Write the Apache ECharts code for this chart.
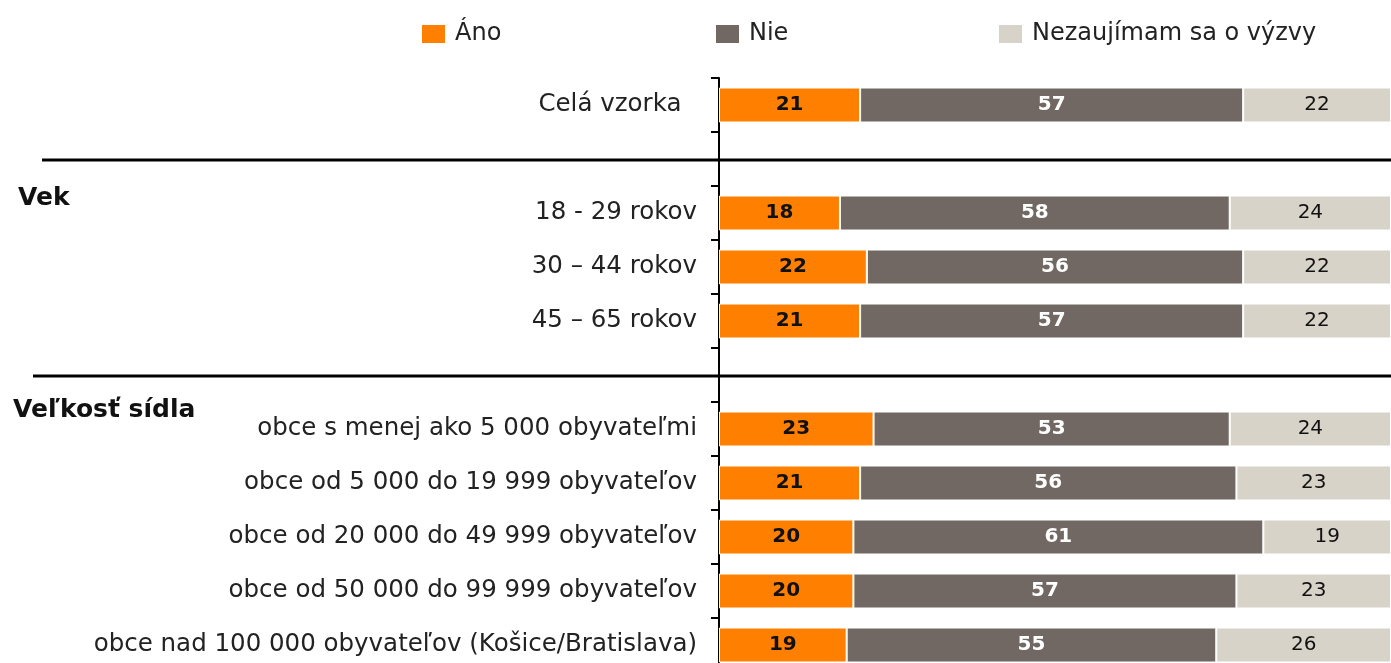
<!DOCTYPE html>
<html>
<head>
<meta charset="utf-8">
<script src="https://cdn.jsdelivr.net/npm/echarts@6/dist/echarts.min.js"></script>
<style>
  html, body { margin: 0; padding: 0; background: #fff; overflow: hidden; }
  /* taller than the window: the last row is cut off at the bottom, as in the source */
  #chart { width: 1391px; height: 672px; }
</style>
</head>
<body>
<div id="chart"></div>
<script>
// rows top to bottom, '' = empty spacer row under a separator
const categories = [
  'Celá vzorka  ',
  '',
  '18 - 29 rokov',
  '30 – 44 rokov',
  '45 – 65 rokov',
  '',
  'obce s menej ako 5 000 obyvateľmi',
  'obce od 5 000 do 19 999 obyvateľov',
  'obce od 20 000 do 49 999 obyvateľov',
  'obce od 50 000 do 99 999 obyvateľov',
  'obce nad 100 000 obyvateľov (Košice/Bratislava)'
];
const ano        = [21, null, 18, 22, 21, null, 23, 21, 20, 20, 19];
const nie        = [57, null, 58, 56, 57, null, 53, 56, 61, 57, 55];
const nezaujimam = [22, null, 24, 22, 22, null, 24, 23, 19, 23, 26];
const seriesNames = ['Áno', 'Nie', 'Nezaujímam sa o výzvy'];
const groups = [
  { title: 'Vek', row: 1 },
  { title: 'Veľkosť sídla', row: 5 }
];

const colors = ['#ff8000', '#716863', '#d8d3c8'];
const font = 'Tahoma, "DejaVu Sans", sans-serif';

const myChart = echarts.init(document.getElementById('chart'));

function legendAt(name, left) {
  return {
    data: [name],
    left: left,
    top: 17,
    icon: 'rect',
    itemWidth: 25,
    itemHeight: 20,
    itemGap: 0,
    textStyle: { color: '#222', fontSize: 24, fontFamily: font, padding: [0, 0, 0, 4] }
  };
}

function barLabel(color, weight) {
  return {
    show: true,
    position: 'inside',
    color: color,
    fontSize: 20,
    fontWeight: weight,
    fontFamily: font,
    formatter: p => (p.value == null ? '' : p.value)
  };
}

myChart.setOption({
  animation: false,
  color: colors,
  legend: [
    legendAt(seriesNames[0], 415),
    legendAt(seriesNames[1], 709),
    legendAt(seriesNames[2], 992)
  ],
  grid: { left: 719, right: 0, top: 78, bottom: 0 },
  xAxis: { type: 'value', min: 0, max: 100, show: false },
  yAxis: {
    type: 'category',
    inverse: true,
    data: categories,
    axisLine: { show: true, lineStyle: { color: '#000', width: 2 } },
    axisTick: { show: true, length: 8, lineStyle: { color: '#000', width: 2 } },
    axisLabel: { color: '#222', fontSize: 24.5, fontFamily: font, margin: 22 }
  },
  series: [
    { name: seriesNames[0], type: 'bar', stack: 'all', data: ano, barWidth: 35,
      itemStyle: { borderColor: '#fff', borderWidth: 1 }, label: barLabel('#111', 'bold') },
    { name: seriesNames[1], type: 'bar', stack: 'all', data: nie, barWidth: 35,
      itemStyle: { borderColor: '#fff', borderWidth: 1 }, label: barLabel('#fff', 'bold') },
    { name: seriesNames[2], type: 'bar', stack: 'all', data: nezaujimam, barWidth: 35,
      itemStyle: { borderColor: '#fff', borderWidth: 1 }, label: barLabel('#111', 'normal') }
  ]
});

// separator lines + group titles, placed from the category scale
const graphics = [];
groups.forEach((g, i) => {
  const y = Math.round(myChart.convertToPixel({ yAxisIndex: 0 }, g.row));
  graphics.push({
    type: 'line',
    shape: { x1: i === 0 ? 42 : 33, y1: y + 1, x2: 1391, y2: y + 1 },
    style: { stroke: '#000', lineWidth: 3 },
    z: 10
  });
  graphics.push({
    type: 'text',
    left: i === 0 ? 18 : 13,
    top: y + (i === 0 ? 27 : 23),
    style: { text: g.title, fill: '#111', font: 'bold 25px ' + font }
  });
});
myChart.setOption({ graphic: graphics });
</script>
</body>
</html>
